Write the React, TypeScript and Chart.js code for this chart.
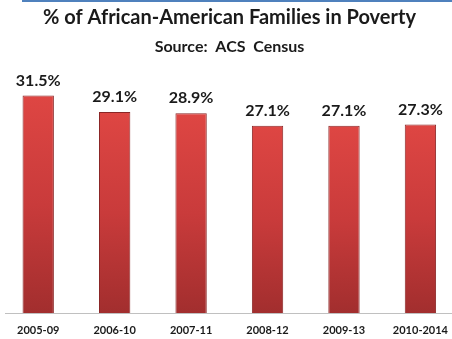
import React, { useEffect, useRef } from "react";
import { Chart, registerables } from "chart.js";

Chart.register(...registerables);

const categories = ["2005-09", "2006-10", "2007-11", "2008-12", "2009-13", "2010-2014"];
const povertyRates = [31.5, 29.1, 28.9, 27.1, 27.1, 27.3];
const titleText = "% of African-American Families in Poverty";
const subtitleText = "Source:  ACS  Census";
const yMax = 35;

const FONT = "Lato, 'Open Sans', sans-serif";

const decorPlugin = {
  id: "decor",
  beforeDraw(chart: any) {
    const ctx = chart.ctx;
    ctx.save();
    ctx.fillStyle = "#4f81bd";
    ctx.fillRect(22, 0, chart.width - 22, 2);
    ctx.restore();
  },
  afterDatasetsDraw(chart: any) {
    const ctx = chart.ctx;
    const meta = chart.getDatasetMeta(0);
    const yScale = chart.scales.y;
    const base = Math.round(yScale.getPixelForValue(0)) + 0.5;
    ctx.save();
    ctx.strokeStyle = "#c0c0c0";
    ctx.lineWidth = 1;
    ctx.beginPath();
    ctx.moveTo(5, base);
    ctx.lineTo(chart.width, base);
    ctx.stroke();
    ctx.fillStyle = "#1a1a1a";
    ctx.font = `bold 16px ${FONT}`;
    ctx.textAlign = "center";
    ctx.textBaseline = "bottom";
    meta.data.forEach((bar: any, i: number) => {
      ctx.fillText(povertyRates[i].toFixed(1) + "%", bar.x, bar.y - 7);
    });
    ctx.restore();
  },
};

export default function App() {
  const ref = useRef<HTMLCanvasElement>(null);
  useEffect(() => {
    if (!ref.current) return;
    const chart = new Chart(ref.current, {
      type: "bar",
      data: {
        labels: categories,
        datasets: [
          {
            data: povertyRates,
            backgroundColor: (c: any) => {
              const ch = c.chart;
              const ys = ch.scales && ch.scales.y;
              if (!ys || c.type !== "data") return "#c83c3c";
              const top = ys.getPixelForValue(c.raw);
              const bottom = ys.getPixelForValue(0);
              if (!isFinite(top) || !isFinite(bottom) || bottom <= top) return "#c83c3c";
              const g = ch.ctx.createLinearGradient(0, top, 0, bottom);
              g.addColorStop(0, "#de4643");
              g.addColorStop(0.5, "#c93b3b");
              g.addColorStop(1, "#a22e2e");
              return g;
            },
            borderColor: "#8a2626",
            borderWidth: 1,
            categoryPercentage: 1,
            barPercentage: 0.41,
          },
        ],
      },
      options: {
        responsive: false,
        animation: false,
        layout: { padding: { left: 0, right: 0, top: 0, bottom: 0 } },
        plugins: {
          legend: { display: false },
          tooltip: { enabled: false },
          title: {
            display: true,
            text: titleText,
            color: "#1a1a1a",
            font: { family: FONT, size: 20, weight: "bold" },
            padding: { top: 6, bottom: 3 },
          },
          subtitle: {
            display: true,
            text: subtitleText,
            color: "#1a1a1a",
            font: { family: FONT, size: 16, weight: "bold" },
            padding: { top: 4, bottom: 15 },
          },
        },
        scales: {
          x: {
            grid: { display: false, drawTicks: false },
            border: { display: false },
            afterFit: (scale: any) => {
              scale.height = 26;
            },
            ticks: {
              color: "#1a1a1a",
              font: { family: FONT, size: 11, weight: "bold" },
              padding: 11,
              maxRotation: 0,
              autoSkip: false,
            },
          },
          y: {
            display: false,
            min: 0,
            max: yMax,
          },
        },
      },
      plugins: [decorPlugin],
    });
    return () => chart.destroy();
  }, []);
  return (
    <div style={{ position: "fixed", left: 0, top: 0, width: 452, height: 339, overflow: "hidden", background: "#fff" }}>
      <canvas ref={ref} width={459} height={339} style={{ display: "block", width: 459, height: 339 }} />
    </div>
  );
}
